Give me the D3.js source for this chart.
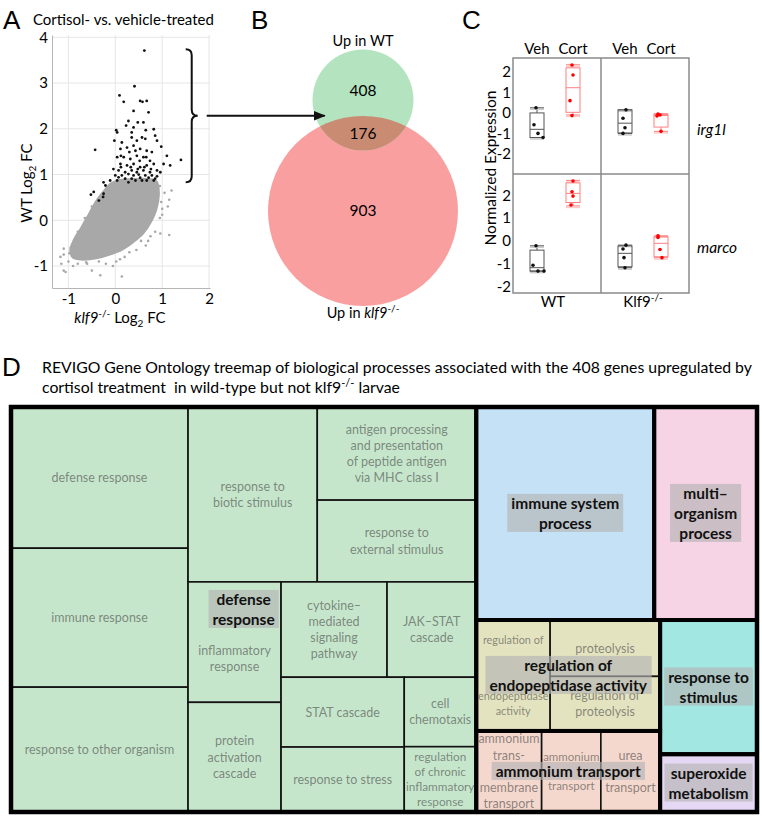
<!DOCTYPE html>
<html>
<head>
<meta charset="utf-8">
<script src="https://cdn.jsdelivr.net/npm/d3@7"></script>
<style>
body { margin: 0; background: #fff; }
</style>
</head>
<body>
<script>
// ---------- panel A: log2 fold changes ----------
// outline of the dense grey cloud (klf9 FC, WT FC)
const cloudOutline = [[-0.96,-0.66],[-0.88,-0.42],[-0.72,-0.15],[-0.56,0.14],[-0.42,0.4],[-0.26,0.62],[-0.1,0.8],
  [0.1,0.88],[0.4,0.9],[0.7,0.9],[0.88,0.85],[0.93,0.6],[0.88,0.25],[0.78,0.0],[0.6,-0.28],[0.38,-0.48],
  [0.15,-0.64],[-0.15,-0.76],[-0.4,-0.83],[-0.7,-0.86],[-0.9,-0.82]]
const greyPoints = [[1.2,0.65],[1.15,0.45],[1.12,0.3],[1.0,0.25],[0.95,0.05],[1.15,-0.32],[0.85,-0.25],[0.96,-0.29],
  [0.65,-0.55],[0.55,-0.45],[0.3,-0.7],[0.1,-0.85],[-0.05,-1.0],[-0.2,-0.95],[-0.35,-0.9],[-0.5,-1.1],[-0.32,-1.2],
  [0.14,-1.23],[-0.9,-1.0],[-1.0,-0.9],[-1.1,-1.1],[-1.06,-1.13],[-1.15,-0.95],[-0.8,-0.95],[-1.1,-0.75],[-1.17,-0.8],
  [-1.1,-0.62],[-0.95,-0.6],[0.95,0.75],[1.05,0.6],[0.9,0.45],[-0.6,-0.95],[0.2,-0.8],[0.45,-0.65],[0.75,-0.35],
  [1.0,0.12],[0.98,0.4],[0.7,-0.45],[-0.5,0.3],[-0.65,0.05],[-0.8,-0.25],[-0.98,-0.72],[-0.62,-0.92],[0.02,-0.9]]
const blackPoints = [[0.62,3.71],[0.09,2.73],[0.41,2.93],[0.18,2.59],[0.53,2.61],[0.58,2.59],[0.67,2.61],[0.39,2.39],
  [0.71,2.36],[0.02,1.97],[0.04,1.92],[0.23,2.07],[0.28,2.17],[0.39,2.03],[0.48,2.14],[0.6,2.14],[0.65,1.97],
  [-0.43,1.54],[-0.02,1.74],[0.14,1.7],[0.35,1.81],[0.46,1.74],[0.57,1.81],[0.85,1.85],[0.98,1.61],[0.11,1.56],
  [0.25,1.59],[0.39,1.63],[0.53,1.56],[0.67,1.52],[0.78,1.49],[0.04,1.38],[0.18,1.38],[0.32,1.34],[0.46,1.41],
  [0.6,1.38],[0.74,1.3],[1.1,1.41],[1.03,1.23],[1.17,1.2],[1.4,1.32],[0.11,1.23],[0.25,1.2],[0.39,1.23],[0.53,1.16],
  [0.67,1.2],[0.82,1.23],[-0.04,1.12],[0.07,1.09],[0.21,1.05],[0.35,1.09],[0.46,1.05],[0.6,1.09],[0.74,1.05],
  [0.89,1.09],[0.96,1.05],[0.0,0.98],[0.14,0.98],[0.28,1.01],[0.39,0.98],[0.5,1.0],[0.64,0.98],[0.78,0.98],
  [0.21,0.91],[0.35,0.91],[0.53,0.93],[0.71,0.93],[0.85,0.91],[-0.11,0.87],[-0.25,0.83],[-0.21,0.76],[-0.52,0.56],
  [-0.35,0.43],[-0.26,0.51],[-0.25,0.58],[-0.46,0.62],[0.12,1.16],[0.33,1.16],[0.48,1.12],[0.62,1.16],[0.76,1.12],
  [0.07,0.94],[0.43,0.87],[0.57,0.87],[0.67,0.87],[0.82,0.87],[0.04,0.87],[0.28,0.83],[0.89,0.96],[0.12,1.41],
  [0.52,1.3],[0.66,1.38],[0.3,1.49],[0.43,1.52],[0.35,1.92],[0.64,1.78],[0.89,1.74],[0.82,1.99]]
const gridX = [-1, 0, 1, 2]
const gridY = [-1, 0, 1, 2, 3, 4]

// ---------- panel B: venn counts ----------
const vennSets = ["WT", "klf9"]
const vennCounts = [408, 176, 903]   // WT only, both, klf9 only

// ---------- panel C: normalized expression ----------
const genes = ["irg1l", "marco"]
const genotypes = ["WT", "Klf9"]
const treatments = ["Veh", "Cort"]
// per gene: WT Veh, WT Cort, Klf9 Veh, Klf9 Cort
const irg1lPoints = [[0.25,-0.58,-1.0,-1.2],[2.34,1.85,0.6,-0.13],[0.15,-0.26,-0.72,-1.0],[-0.05,-0.1,-0.15,-0.9]]
const marcoPoints = [[-0.22,-1.07,-1.33,-1.33],[2.62,2.15,1.96,1.57],[-0.19,-0.36,-0.74,-1.18],[0.22,0.15,-0.38,-0.74]]
// [min, q1, median, q3, max]
const irg1lBoxes = [[-1.2,-1.2,-0.8,0.0,0.25],[-0.1,0.03,1.23,2.2,2.35],[-1.0,-0.98,-0.5,0.15,0.15],[-0.9,-0.69,-0.12,-0.07,-0.04]]
const marcoBoxes = [[-1.33,-1.33,-1.18,-0.41,-0.22],[1.53,1.68,2.08,2.54,2.65],[-1.18,-1.14,-0.55,-0.22,-0.19],[-0.74,-0.7,-0.11,0.18,0.22]]
const cTicks = [-2, -1, 0, 1, 2]

// ---------- panel D: REVIGO treemap ----------
const terms = ["defense response","immune response","response to other organism","response to biotic stimulus",
  "antigen processing and presentation of peptide antigen via MHC class I","response to external stimulus",
  "inflammatory response","protein activation cascade","cytokine-mediated signaling pathway","JAK-STAT cascade",
  "STAT cascade","response to stress","cell chemotaxis","regulation of chronic inflammatory response",
  "immune system process","multi-organism process","regulation of endopeptidase activity","proteolysis",
  "regulation of proteolysis","ammonium transmembrane transport","ammonium transport","urea transport",
  "response to stimulus","superoxide metabolism"]
const termSize = [250,246,221,226,148,130,112,102,101,85,86,80,50,47,379,219,82,62,60,53,48,48,130,56]
const termGroup = [0,0,0,0,0,0,0,0,0,0,0,0,0,0,1,2,3,3,3,4,4,4,5,6]
const termLabel = ["defense response","immune response","response to other organism","response to\nbiotic stimulus",
  "antigen processing\nand presentation\nof peptide antigen\nvia MHC class I","response to\nexternal stimulus",
  "\n\ninflammatory\nresponse","protein\nactivation\ncascade","cytokine–\nmediated\nsignaling\npathway",
  "JAK–STAT\ncascade","STAT cascade","response to stress","cell\nchemotaxis",
  "regulation\nof chronic\ninflammatory\nresponse","","","regulation of\n\n\n\nendopeptidase\nactivity","proteolysis",
  "regulation of\nproteolysis","ammonium\ntrans-\n\nmembrane\ntransport","ammonium\n\ntransport","urea\n\ntransport","",""]
const groupLabel = ["defense\nresponse","immune system\nprocess","multi–\norganism\nprocess",
  "regulation of\nendopeptidase activity","ammonium transport","response to\nstimulus","superoxide\nmetabolism"]
const groupColor = ["#c6e6cc","#c5e1f5","#f6d4e6","#e4e3c0","#f5d8cd","#a3e7e2","#e4d8f4"]
// how the tiles are cut: "h" = side by side, "v" = stacked
const tiling = ["h", [
  ["h", [["v", [0, 1, 2]],
         ["v", [["h", [3, ["v", [4, 5]]]],
                ["h", [["v", [6, 7]], ["v", [["h", [8, 9]], ["h", [["v", [10, 11]], ["v", [12, 13]]]]]]]]]]]],
  ["v", [["h", [14, 15]],
         ["h", [["v", [["h", [16, ["v", [17, 18]]]], ["h", [19, 20, 21]]]], ["v", [22, 23]]]]]]]]

const font = "Lato, 'Open Sans', sans-serif"
const svg = d3.select("body").append("svg")
  .attr("width", 762).attr("height", 816)
  .style("font-family", font)

function letter(t, x, y) {
  svg.append("text").attr("x", x).attr("y", y).text(t)
    .style("font-family", "'Liberation Sans', Arial, sans-serif").attr("font-size", 26)
}

// ===== A =====
letter("A", 3, 29)
svg.append("text").attr("x", 33).attr("y", 25).attr("font-size", 15).text("Cortisol- vs. vehicle-treated")

const xA = d3.scaleLinear().domain([-1.35, 2.02]).range([52, 210])
const yA = d3.scaleLinear().domain([-1.48, 4.05]).range([288, 35])

const gA = svg.append("g")
gA.selectAll(".gx").data(gridX).enter().append("line")
  .attr("x1", d => xA(d)).attr("x2", d => xA(d)).attr("y1", yA.range()[1]).attr("y2", yA.range()[0])
  .attr("stroke", "#e6e6e6")
gA.selectAll(".gy").data(gridY).enter().append("line")
  .attr("y1", d => yA(d)).attr("y2", d => yA(d)).attr("x1", xA.range()[0]).attr("x2", xA.range()[1])
  .attr("stroke", "#e6e6e6")

const axA1 = gA.append("g").attr("transform", `translate(${xA.range()[0]},0)`)
  .call(d3.axisLeft(yA).tickValues(gridY).tickSize(0).tickPadding(4).tickFormat(d => String(d)))
const axA2 = gA.append("g").attr("transform", `translate(0,${yA.range()[0]})`)
  .call(d3.axisBottom(xA).tickValues(gridX).tickSize(0).tickPadding(5).tickFormat(d => String(d)))
;[axA1, axA2].forEach(a => {
  a.attr("font-family", null).attr("font-size", 15)
  a.select(".domain").attr("stroke", "#b5b5b5")
})

gA.append("path").datum(cloudOutline)
  .attr("d", d3.line().x(d => xA(d[0])).y(d => yA(d[1])).curve(d3.curveCatmullRomClosed))
  .attr("fill", "#a8a8a8").attr("stroke", "#a8a8a8").attr("stroke-width", 2)
gA.selectAll(".gp").data(greyPoints).enter().append("circle")
  .attr("cx", d => xA(d[0])).attr("cy", d => yA(d[1])).attr("r", 1.3).attr("fill", "#a8a8a8")
gA.selectAll(".bp").data(blackPoints).enter().append("circle")
  .attr("cx", d => xA(d[0])).attr("cy", d => yA(d[1])).attr("r", 1.4).attr("fill", "#111")

// axis titles
const yl = svg.append("text").attr("transform", "translate(32,183) rotate(-90)")
  .attr("text-anchor", "middle").attr("font-size", 15)
yl.append("tspan").text("WT Log")
yl.append("tspan").attr("font-size", 10).attr("dy", 4).text("2")
yl.append("tspan").attr("dy", -4).text(" FC")
const xl = svg.append("text").attr("x", 120).attr("y", 323).attr("text-anchor", "middle").attr("font-size", 15)
xl.append("tspan").attr("font-style", "italic").text("klf9")
xl.append("tspan").attr("font-size", 10).attr("dy", -6).text("-/-")
xl.append("tspan").attr("dy", 6).text(" Log")
xl.append("tspan").attr("font-size", 10).attr("dy", 4).text("2")
xl.append("tspan").attr("dy", -4).text(" FC")

// brace around the black points + arrow to the venn
const bTop = yA(d3.max(blackPoints, d => d[1]) + 0.03)
const bBot = yA(d3.min(blackPoints.filter(d => d[0] > 0), d => d[1]))
const bMid = (bTop + bBot) / 2
const bx = xA(1.63)
svg.append("path")
  .attr("d", `M${bx - 6},${bTop} Q${bx},${bTop} ${bx},${bTop + 6} L${bx},${bMid - 6} Q${bx},${bMid} ${bx + 6},${bMid}` +
    ` Q${bx},${bMid} ${bx},${bMid + 6} L${bx},${bBot - 6} Q${bx},${bBot} ${bx - 6},${bBot}`)
  .attr("fill", "none").attr("stroke", "#111").attr("stroke-width", 2)

// ===== B =====
letter("B", 251, 29)
const vx = 363
const greenC = { cy: 100, r: 50.5 }
const redC = { cy: 211, r: 95 }
svg.append("defs").append("clipPath").attr("id", "clipG")
  .append("circle").attr("cx", vx).attr("cy", greenC.cy).attr("r", greenC.r)
svg.select("defs").append("marker").attr("id", "arr").attr("viewBox", "0 0 10 10")
  .attr("refX", 9).attr("refY", 5).attr("markerWidth", 6).attr("markerHeight", 6).attr("orient", "auto")
  .append("path").attr("d", "M0,1 L10,5 L0,9 Z").attr("fill", "#111")

svg.append("circle").attr("cx", vx).attr("cy", redC.cy).attr("r", redC.r).attr("fill", "#fa9f9f")
svg.append("circle").attr("cx", vx).attr("cy", greenC.cy).attr("r", greenC.r).attr("fill", "#b4e3bf")
svg.append("circle").attr("cx", vx).attr("cy", redC.cy).attr("r", redC.r).attr("fill", "#c98b72")
  .attr("clip-path", "url(#clipG)")

svg.append("line").attr("x1", bx + 15).attr("x2", vx - greenC.r * 0.76).attr("y1", bMid).attr("y2", bMid)
  .attr("stroke", "#111").attr("stroke-width", 2).attr("marker-end", "url(#arr)")

svg.append("text").attr("x", vx).attr("y", 46).attr("text-anchor", "middle").attr("font-size", 14.5)
  .text("Up in " + vennSets[0])
const vy = [96, 139, 216]
vennCounts.forEach((c, i) => svg.append("text").attr("x", vx).attr("y", vy[i]).attr("text-anchor", "middle")
  .attr("font-size", 15.5).text(c))
const vl = svg.append("text").attr("x", vx).attr("y", 318).attr("text-anchor", "middle").attr("font-size", 14.5)
vl.append("tspan").text("Up in ")
vl.append("tspan").attr("font-style", "italic").text(vennSets[1])
vl.append("tspan").attr("font-size", 10).attr("dy", -6).text("-/-")

// ===== C =====
letter("C", 462, 29)
const cL = 513, cR = 689, cT = 58, cM = 174, cB = 293
const xGen = d3.scaleBand().domain(genotypes).range([cL, cR])
const xTr = d3.scalePoint().domain(treatments).range([24, 60])
const yC = [d3.scaleLinear().domain([-2.98, 2.68]).range([cM, cT]),
            d3.scaleLinear().domain([-2.29, 2.93]).range([cB, cM])]
const cPoints = [irg1lPoints, marcoPoints]
const cBoxes = [irg1lBoxes, marcoBoxes]
const jitter = [[[-1,-3,1,6],[-1,0,-3,-1],[1,-2,0,-2],[-3,-1,-4,0]],
                [[-1,-4,1,7],[0,-1,0,-2],[1,-2,-1,0],[-3,-3,-1,1]]]

const gC = svg.append("g")
gC.append("rect").attr("x", cL).attr("y", cT).attr("width", cR - cL).attr("height", cB - cT)
  .attr("fill", "none").attr("stroke", "#8a8a8a").attr("stroke-width", 1.5)
gC.append("line").attr("x1", xGen("Klf9")).attr("x2", xGen("Klf9")).attr("y1", cT).attr("y2", cB)
  .attr("stroke", "#8a8a8a").attr("stroke-width", 1.5)
gC.append("line").attr("x1", cL).attr("x2", cR).attr("y1", cM).attr("y2", cM)
  .attr("stroke", "#8a8a8a").attr("stroke-width", 1.5)

genotypes.forEach(g => treatments.forEach(t => {
  gC.append("text").attr("x", xGen(g) + xTr(t)).attr("y", 54).attr("text-anchor", "middle")
    .attr("font-size", 15).text(t)
}))

genes.forEach((gene, r) => {
  const y = yC[r]
  const ax = gC.append("g").attr("transform", `translate(${cL},0)`)
    .call(d3.axisLeft(y).tickValues(cTicks).tickSize(0).tickPadding(2).tickFormat(d => String(d)))
  ax.attr("font-family", null).attr("font-size", 15)
  ax.select(".domain").remove()
  gC.append("text").attr("x", 697).attr("y", (y.range()[0] + y.range()[1]) / 2 + 19)
    .attr("font-size", 15.5).attr("font-style", "italic").text(gene)

  let k = 0
  genotypes.forEach(g => treatments.forEach(t => {
    const s = cBoxes[r][k], pts = cPoints[r][k], jit = jitter[r][k]
    const cx = xGen(g) + xTr(t)
    const cort = t === "Cort"
    const line = cort ? "#ff8080" : "#555"
    const dot = cort ? "#f00" : "#111"
    const bw = 7
    gC.append("line").attr("x1", cx).attr("x2", cx).attr("y1", y(s[0])).attr("y2", y(s[1])).attr("stroke", line)
    gC.append("line").attr("x1", cx).attr("x2", cx).attr("y1", y(s[3])).attr("y2", y(s[4])).attr("stroke", line)
    ;[s[0], s[4]].forEach(v => {
      gC.append("line").attr("x1", cx - bw).attr("x2", cx + bw).attr("y1", y(v) + 1.5).attr("y2", y(v) + 1.5)
        .attr("stroke", cort ? "#fcc" : "#ccc").attr("stroke-width", 1.5)
      gC.append("line").attr("x1", cx - bw).attr("x2", cx + bw).attr("y1", y(v)).attr("y2", y(v)).attr("stroke", line)
    })
    gC.append("rect").attr("x", cx - bw).attr("width", bw * 2).attr("y", y(s[3])).attr("height", y(s[1]) - y(s[3]))
      .attr("fill", "none").attr("stroke", line)
    gC.append("line").attr("x1", cx - bw).attr("x2", cx + bw).attr("y1", y(s[2])).attr("y2", y(s[2])).attr("stroke", line)
    pts.forEach((v, i) => gC.append("circle").attr("cx", cx + jit[i]).attr("cy", y(v)).attr("r", 1.8).attr("fill", dot))
    k++
  }))
})

svg.append("text").attr("transform", "translate(496,168) rotate(-90)")
  .attr("text-anchor", "middle").attr("font-size", 15.5).text("Normalized Expression")
svg.append("text").attr("x", xGen("WT") + xGen.bandwidth() / 2 - 4).attr("y", 307).attr("text-anchor", "middle")
  .attr("font-size", 15).text("WT")
const kl = svg.append("text").attr("x", xGen("Klf9") + xGen.bandwidth() / 2 - 2).attr("y", 307)
  .attr("text-anchor", "middle").attr("font-size", 15)
kl.append("tspan").text("Klf9")
kl.append("tspan").attr("font-size", 10).attr("dy", -6).text("-/-")

// ===== D =====
letter("D", 2, 376)
svg.append("text").attr("x", 42).attr("y", 373).attr("font-size", 15.8)
  .text("REVIGO Gene Ontology treemap of biological processes associated with the 408 genes upregulated by")
const t2 = svg.append("text").attr("x", 42).attr("y", 393).attr("font-size", 15.8).attr("xml:space", "preserve")
t2.append("tspan").text("cortisol treatment  in wild-type but not klf9")
t2.append("tspan").attr("font-size", 11).attr("dy", -6).text("-/-")
t2.append("tspan").attr("dy", 6).text(" larvae")

function toNode(t) {
  return typeof t === "number" ? { term: t } : { dir: t[0], children: t[1].map(toNode) }
}
const tmX = 11, tmY = 407, tmW = 746, tmH = 405
const root = d3.hierarchy(toNode(tiling), d => d.children)
  .sum(d => d.children ? 0 : termSize[d.term])
d3.treemap().size([tmW, tmH])
  .tile((node, x0, y0, x1, y1) => (node.data.dir === "h" ? d3.treemapDice : d3.treemapSlice)(node, x0, y0, x1, y1))(root)

const gD = svg.append("g").attr("transform", `translate(${tmX},${tmY})`)
const leaves = root.leaves()
gD.selectAll(".leaf").data(leaves).enter().append("rect")
  .attr("x", d => d.x0).attr("y", d => d.y0).attr("width", d => d.x1 - d.x0).attr("height", d => d.y1 - d.y0)
  .attr("fill", d => groupColor[termGroup[d.data.term]]).attr("stroke", "#111").attr("stroke-width", 1.6)

const groupBox = groupLabel.map((g, gi) => {
  const ls = leaves.filter(d => termGroup[d.data.term] === gi)
  return { x0: d3.min(ls, d => d.x0), y0: d3.min(ls, d => d.y0), x1: d3.max(ls, d => d.x1), y1: d3.max(ls, d => d.y1) }
})
gD.selectAll(".grp").data(groupBox).enter().append("rect")
  .attr("x", d => d.x0).attr("y", d => d.y0).attr("width", d => d.x1 - d.x0).attr("height", d => d.y1 - d.y0)
  .attr("fill", "none").attr("stroke", "#000").attr("stroke-width", 4)
gD.append("rect").attr("width", tmW).attr("height", tmH).attr("fill", "none").attr("stroke", "#000").attr("stroke-width", 4.5)

function multiline(g, str, cx, cy, size, lh) {
  const lines = str.split("\n")
  const t = g.append("text").attr("text-anchor", "middle").attr("font-size", size)
  lines.forEach((l, i) => t.append("tspan").attr("x", cx)
    .attr("y", cy + (i - (lines.length - 1) / 2) * lh + size * 0.35).text(l))
  return t
}

leaves.forEach(d => {
  const lab = termLabel[d.data.term]
  if (!lab) return
  const cx = (d.x0 + d.x1) / 2, cy = (d.y0 + d.y1) / 2, w = d.x1 - d.x0
  let size = 12.5
  let t = multiline(gD, lab, cx, cy, size, size * 1.3)
  const bw = t.node().getBBox().width
  if (bw > w - 3) {
    t.remove()
    size = size * (w - 3) / bw
    t = multiline(gD, lab, cx, cy, size, size * 1.3)
  }
  t.attr("fill", "#4a4a4a").attr("fill-opacity", 0.62)
})

groupBox.forEach((b, gi) => {
  const cx = (b.x0 + b.x1) / 2, cy = (b.y0 + b.y1) / 2
  const t = multiline(gD, groupLabel[gi], cx, cy, 15.5, 20).attr("font-weight", "bold").attr("fill", "#111")
  const bb = t.node().getBBox()
  gD.insert("rect", () => t.node())
    .attr("x", bb.x - 4).attr("y", bb.y).attr("width", bb.width + 8).attr("height", bb.height)
    .attr("fill", "#b4b4b4").attr("fill-opacity", 0.65)
})
</script>
</body>
</html>
